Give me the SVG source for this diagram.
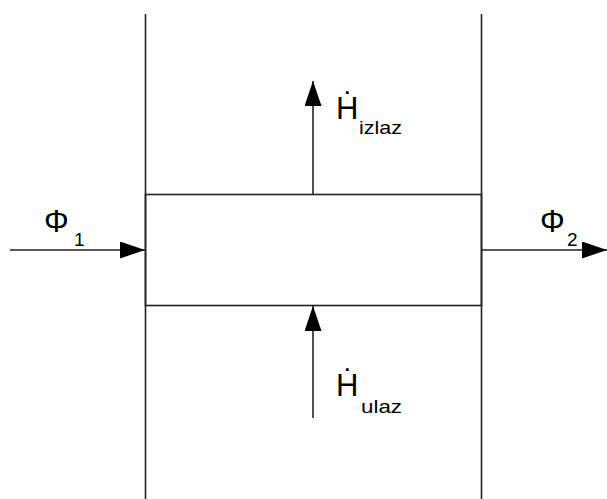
<svg xmlns="http://www.w3.org/2000/svg" width="607" height="499" viewBox="0 0 607 499">
  <style>
    .ln { stroke: #222; stroke-width: 1.6; fill: none; }
    .big { font-family: "Liberation Sans", "DejaVu Sans", Arial, sans-serif; font-size: 31px; fill: #000; }
    .sub { font-family: "Liberation Sans", "DejaVu Sans", Arial, sans-serif; font-size: 19px; fill: #000; }
  </style>
  <defs>
    <marker id="ah" viewBox="0 0 25 17" refX="25" refY="8.5" markerWidth="25" markerHeight="17" markerUnits="userSpaceOnUse" orient="auto">
      <path d="M0,0 L25,8.5 L0,17 Z" fill="#000"/>
    </marker>
  </defs>
  <rect width="607" height="499" fill="#fff"/>
  <g id="walls">
    <line class="ln" x1="145.5" y1="14" x2="145.5" y2="499"/>
    <line class="ln" x1="481.5" y1="14" x2="481.5" y2="499"/>
  </g>
  <g id="box">
    <rect class="ln" x="145.5" y="194.5" width="336" height="111"/>
  </g>
  <g id="connectors">
    <line class="ln" x1="10" y1="250" x2="145" y2="250" marker-end="url(#ah)"/>
    <line class="ln" x1="482" y1="250" x2="607" y2="250" marker-end="url(#ah)"/>
    <line class="ln" x1="313" y1="194" x2="313" y2="81" marker-end="url(#ah)"/>
    <line class="ln" x1="313" y1="418" x2="313" y2="306" marker-end="url(#ah)"/>
  </g>
  <g id="labels">
    <text class="big" x="44" y="232">Φ</text>
    <text class="sub" x="74" y="246">1</text>
    <text class="big" x="540" y="232">Φ</text>
    <text class="sub" x="567" y="246">2</text>
    <text class="big" x="336" y="119">Ḣ</text>
    <text class="sub" x="359" y="134" textLength="43" lengthAdjust="spacingAndGlyphs">izlaz</text>
    <text class="big" x="336" y="396">Ḣ</text>
    <text class="sub" x="361" y="413" textLength="41" lengthAdjust="spacingAndGlyphs">ulaz</text>
  </g>
</svg>
